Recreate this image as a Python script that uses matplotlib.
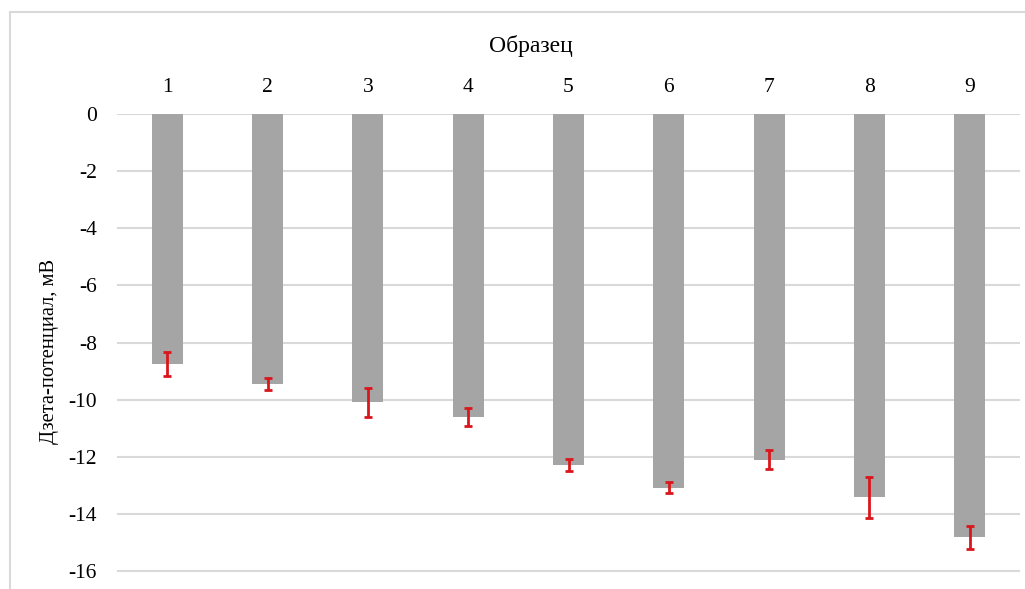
import matplotlib
matplotlib.use("Agg")
import matplotlib.pyplot as plt
from matplotlib.lines import Line2D

samples = ["1", "2", "3", "4", "5", "6", "7", "8", "9"]
zeta = [-8.75, -9.46, -10.1, -10.6, -12.29, -13.08, -12.1, -13.42, -14.82]
errors = [0.42, 0.22, 0.5, 0.31, 0.2, 0.18, 0.32, 0.72, 0.41]
yticks = [0, -2, -4, -6, -8, -10, -12, -14, -16]

plt.rcParams['font.family'] = ['Liberation Serif', 'DejaVu Serif']

fig = plt.figure(figsize=(10.25, 5.89), dpi=100)
W, H = 1025, 589
ax = fig.add_axes([117 / W, 0, (1020 - 117) / W, (589 - 114) / H])

x = list(range(len(samples)))
ax.bar(x, zeta, width=0.31, color='#a5a5a5', zorder=2,
       yerr=errors, error_kw=dict(ecolor='#d9161c', elinewidth=2, capsize=2.8, capthick=2, zorder=3))

ax.set_xlim(-0.5, len(samples) - 0.5)
ax.set_ylim(-16.63, 0)
ax.set_yticks(yticks)
ax.set_yticklabels([str(v) for v in yticks])
ax.set_xticks(x)
ax.set_xticklabels(samples)
ax.xaxis.tick_top()
ax.tick_params(axis='both', length=0, labelsize=15.5)
ax.tick_params(axis='y', pad=14.4)
ax.tick_params(axis='x', pad=12.5)
ax.yaxis.grid(True, color='#d9d9d9', linewidth=1.5, zorder=0)
ax.set_axisbelow(True)
for s in ax.spines.values():
    s.set_visible(False)

fig.text(531 / W, 1 - 52 / H, 'Образец', fontsize=17, ha='center', va='baseline')
fig.text(50 / W, 1 - 351 / H, 'Дзета-потенциал, мВ', fontsize=14.8, rotation=90,
         ha='center', va='center')

# outer frame (chart area border)
fig.add_artist(Line2D([10 / W, 10 / W], [0, 1 - 12 / H], transform=fig.transFigure, color='#d9d9d9', linewidth=1.5))
fig.add_artist(Line2D([10 / W, 1], [1 - 12 / H, 1 - 12 / H], transform=fig.transFigure, color='#d9d9d9', linewidth=1.5))

fig.savefig('out.png', dpi=100)
